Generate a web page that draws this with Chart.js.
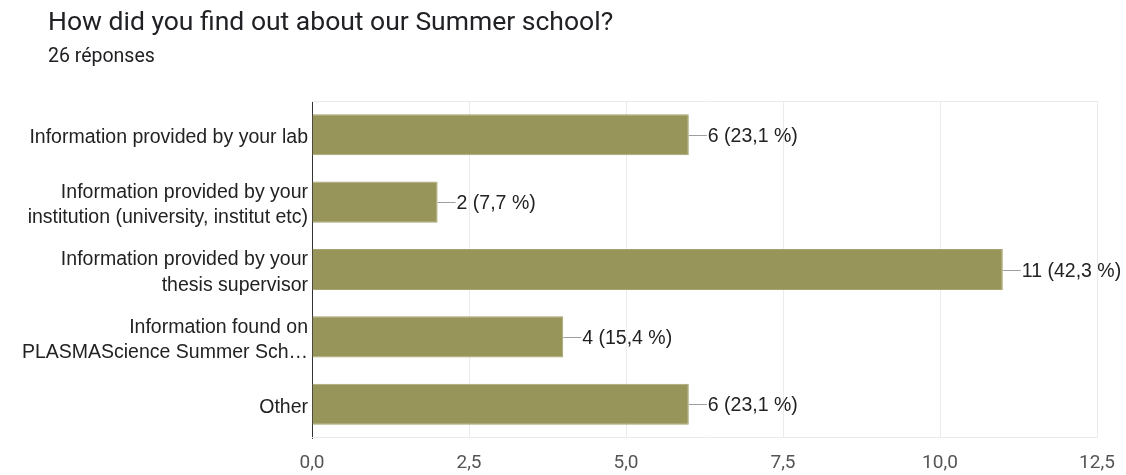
<!DOCTYPE html>
<html>
<head>
<meta charset="utf-8">
<script src="https://cdn.jsdelivr.net/npm/chart.js@4"></script>
<style>
  html, body { margin: 0; padding: 0; background: #fff; }
  #wrap { position: relative; width: 1126px; height: 475px; }
  #title { position: absolute; left: 48px; top: 4px; font-family: Roboto, sans-serif; font-size: 26.5px; line-height: 34px; color: #202124; white-space: nowrap; }
  #sub { position: absolute; left: 48px; top: 44px; font-family: Roboto, sans-serif; font-size: 19.5px; line-height: 24px; color: #202124; white-space: nowrap; }
  canvas { position: absolute; left: 0; top: 0; }
</style>
</head>
<body>
<div id="wrap">
  <canvas id="c" width="1126" height="475"></canvas>
  <div id="title">How did you find out about our Summer school?</div>
  <div id="sub">26 réponses</div>
</div>
<script>
const categories = [
  ["Information provided by your lab"],
  ["Information provided by your", "institution (university, institut etc)"],
  ["Information provided by your", "thesis supervisor"],
  ["Information found on", "PLASMAScience Summer Sch…"],
  ["Other"]
];
const counts = [6, 2, 11, 4, 6];
const totalResponses = 26;
const xTicks = [0, 2.5, 5, 7.5, 10, 12.5];

const fmt = v => v.toFixed(1).replace('.', ',');

const frame = {
  id: 'frame',
  beforeDatasetsDraw(chart) {
    const a = chart.chartArea, ctx = chart.ctx;
    ctx.save();
    ctx.strokeStyle = '#ebebeb';
    ctx.lineWidth = 1;
    ctx.beginPath();
    ctx.moveTo(a.left, a.top + 0.5); ctx.lineTo(a.right, a.top + 0.5);
    ctx.moveTo(a.left, a.bottom - 0.5); ctx.lineTo(a.right, a.bottom - 0.5);
    ctx.stroke();
    ctx.restore();
  }
};

const valueLabels = {
  id: 'valueLabels',
  afterDatasetsDraw(chart) {
    const ctx = chart.ctx;
    const meta = chart.getDatasetMeta(0);
    ctx.save();
    meta.data.forEach((bar, i) => {
      const v = counts[i];
      const pct = (v / totalResponses * 100).toFixed(1).replace('.', ',');
      const x = bar.x, y = Math.round(bar.y) + 0.5;
      ctx.strokeStyle = '#9e9e9e';
      ctx.lineWidth = 1;
      ctx.beginPath();
      ctx.moveTo(x, y); ctx.lineTo(x + 18, y);
      ctx.stroke();
      ctx.fillStyle = '#222222';
      ctx.font = '19.5px "Liberation Sans", Arial, sans-serif';
      ctx.textAlign = 'left';
      ctx.textBaseline = 'middle';
      ctx.fillText(v + ' (' + pct + ' %)', x + 19, y + 1);
    });
    ctx.restore();
  }
};

new Chart(document.getElementById('c'), {
  type: 'bar',
  data: {
    labels: categories,
    datasets: [{
      data: counts,
      backgroundColor: '#979559',
      borderColor: '#a6a470',
      borderWidth: 1,
      borderSkipped: 'left',
      categoryPercentage: 1.0,
      barPercentage: 0.61
    }]
  },
  options: {
    indexAxis: 'y',
    responsive: false,
    animation: false,
    devicePixelRatio: 1,
    layout: { padding: { top: 101, right: 29, left: 0, bottom: 0 } },
    plugins: { legend: { display: false }, tooltip: { enabled: false } },
    scales: {
      x: {
        min: 0, max: 12.5,
        afterBuildTicks: s => { s.ticks = xTicks.map(v => ({ value: v })); },
        afterFit: s => { s.height = 37; s.paddingLeft = 0; s.paddingRight = 0; },
        grid: { color: '#ebebeb', drawTicks: false },
        border: { display: false },
        ticks: {
          padding: 14,
          color: '#555555',
          font: { family: 'Roboto', size: 19, lineHeight: 1.2 },
          callback: v => fmt(v)
        }
      },
      y: {
        afterFit: s => { s.width = 312; },
        grid: { display: false, drawTicks: false },
        border: { display: true, color: '#333333', width: 1 },
        ticks: {
          padding: 4,
          labelOffset: 3,
          color: '#222222',
          font: { family: '"Liberation Sans", Arial, sans-serif', size: 19.5, lineHeight: 1.3 }
        }
      }
    }
  },
  plugins: [frame, valueLabels]
});
</script>
</body>
</html>
